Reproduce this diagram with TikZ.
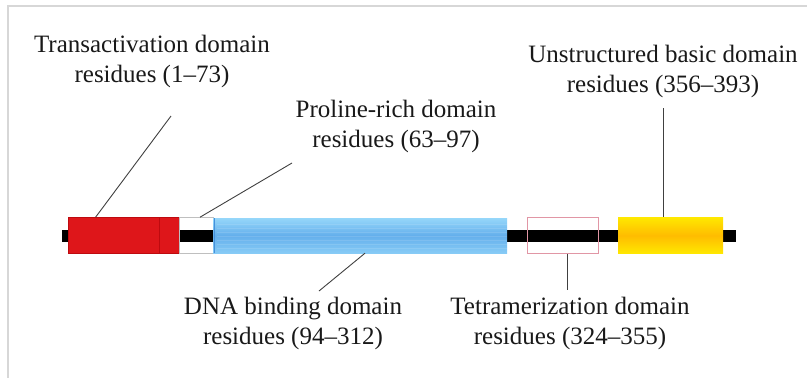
\documentclass[tikz,border=0pt]{standalone}
\usepackage{fontspec}
\setmainfont{Liberation Serif}
\usepackage{tikz}
\usetikzlibrary{shapes,arrows,positioning,calc}
\definecolor{tadred}{RGB}{222, 22, 26}
\definecolor{tadedge}{RGB}{190, 10, 15}
\definecolor{dbdtop}{RGB}{150, 215, 250}
\definecolor{dbdmid}{RGB}{100, 175, 236}
\definecolor{dbdedge}{RGB}{70, 145, 220}
\definecolor{basictop}{RGB}{255, 232, 0}
\definecolor{basicmid}{RGB}{255, 188, 0}
\definecolor{tetpink}{RGB}{225, 150, 165}
\definecolor{framegray}{RGB}{215, 215, 215}
\tikzstyle{chain} = [rectangle, fill=black, draw=none, minimum width=674pt, minimum height=12pt, inner sep=0pt]
\tikzstyle{domainbox} = [rectangle, inner sep=0pt, minimum height=36pt]
\tikzstyle{label} = [align=center, font=\fontsize{25}{30}\selectfont, text=black!90, inner sep=0pt]
\tikzstyle{lead} = [draw, line width=0.9pt, black!75]

\begin{document}
\begin{tikzpicture}[x=1pt, y=-1pt]
\useasboundingbox (0,0) rectangle (807,378);

% frame =============================
\draw[framegray, line width=1.5pt] (8,378) -- (8,6) -- (807,6);

% protein chain
\node[chain] (chain) at (399, 236) {};

% domains
\node[domainbox, fill=tadred, draw=tadedge, line width=0.6pt, minimum width=111pt] (tad) at (123.5, 235.5) {};
\draw[tadedge, line width=0.6pt] ($(tad.north west)+(92,0)$) -- ($(tad.south west)+(92,0)$);

\node[domainbox, draw=black!25, line width=0.6pt, minimum width=34pt] (prd) at (196, 235.5) {};

\node[domainbox, minimum width=294pt, minimum height=35pt, top color=dbdtop, bottom color=dbdtop!70!dbdmid, middle color=dbdmid] (dbd) at (360, 235.5) {};
\draw[dbdedge, line width=1.2pt] ($(dbd.north west)+(2,0)$) -- ($(dbd.south west)+(2,0)$);
\foreach \s in {6,10,...,30}
  \draw[white, opacity=0.12, line width=0.6pt] ($(dbd.north west)+(4,\s)$) -- ($(dbd.north east)+(0,\s)$);

\node[domainbox, draw=tetpink, line width=0.8pt, minimum width=71pt] (tet) at (562.5, 235.5) {};

\node[domainbox, minimum width=105pt, top color=basictop, bottom color=basictop, middle color=basicmid] (basic) at (670.5, 235.5) {};

% labels =============================
\node[label] (tadlab) at (152, 61) {Transactivation domain\\residues (1--73)};
\node[label] (prdlab) at (396, 126) {Proline-rich domain\\residues (63--97)};
\node[label] (basiclab) at (663, 71) {Unstructured basic domain\\residues (356--393)};
\node[label] (dbdlab) at (293, 323) {DNA binding domain\\residues (94--312)};
\node[label] (tetlab) at (570, 323) {Tetramerization domain\\residues (324--355)};

% leader ends
\coordinate (tadtip) at (171, 116);
\coordinate (prdtip) at (292, 163);
\coordinate (basictip) at (663, 108);
\coordinate (dbdtip) at (319, 291);
\coordinate (tettip) at (567, 290);

% leaders
\path[lead] (tadtip) -- ($(tad.north west)!0.25!(tad.north east)$);
\path[lead] (prdtip) -- ($(prd.north)+(4,0)$);
\path[lead] (basictip) -- (basictip |- basic.north);
\path[lead] ($(dbd.south)+(5,0)$) -- (dbdtip);
\path[lead] (tettip |- tet.south) -- (tettip);

\end{tikzpicture}
\end{document}
